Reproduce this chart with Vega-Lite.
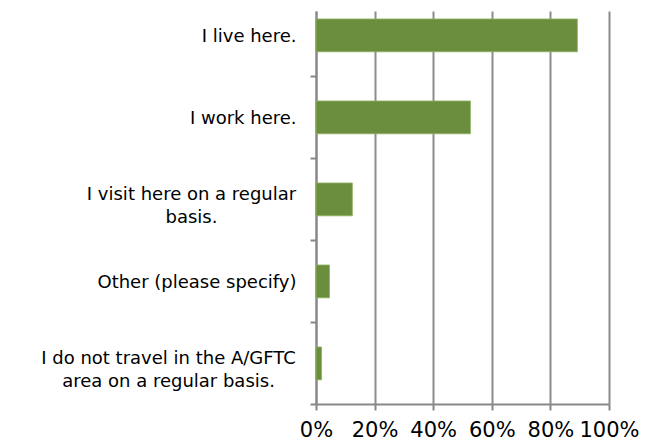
{
  "$schema": "https://vega.github.io/schema/vega-lite/v6.json",
  "autosize": "none",
  "width": 293,
  "height": 393,
  "padding": {"left": 316, "top": 11, "right": 45, "bottom": 41},
  "background": "white",
  "data": {
    "values": [
      {"answer": "I live here.", "share": 0.892},
      {"answer": "I work here.", "share": 0.527},
      {"answer": "I visit here on a regular basis.", "share": 0.124},
      {"answer": "Other (please specify)", "share": 0.046},
      {"answer": "I do not travel in the A/GFTC area on a regular basis.", "share": 0.019}
    ]
  },
  "mark": {"type": "bar", "color": "#6b8e3e", "stroke": "#8fb060", "strokeWidth": 0.8},
  "encoding": {
    "y": {
      "field": "answer",
      "type": "nominal",
      "sort": null,
      "scale": {"paddingInner": 0.6, "paddingOuter": 0.196, "align": 0.248},
      "axis": {
        "title": null,
        "domainColor": "#878787",
        "domainWidth": 2,
        "tickColor": "#878787",
        "tickWidth": 2,
        "tickSize": 6,
        "tickOffset": 41,
        "labelOffset": {
          "condition": {"test": "datum.value == 'I visit here on a regular basis.' || datum.value == 'I do not travel in the A/GFTC area on a regular basis.'", "value": -46},
          "value": -40
        },
        "labelPadding": {
          "condition": [
            {"test": "datum.value == 'I visit here on a regular basis.'", "value": 119},
            {"test": "datum.value == 'I do not travel in the A/GFTC area on a regular basis.'", "value": 142}
          ],
          "value": 14
        },
        "labelAlign": {
          "condition": {"test": "datum.value == 'I visit here on a regular basis.' || datum.value == 'I do not travel in the A/GFTC area on a regular basis.'", "value": "center"},
          "value": "right"
        },
        "labelFont": "DejaVu Sans",
        "labelFontSize": 18,
        "labelColor": "#000000",
        "labelLimit": 320,
        "labelLineHeight": 23,
        "labelExpr": "datum.label == 'I visit here on a regular basis.' ? ['I visit here on a regular', 'basis.'] : datum.label == 'I do not travel in the A/GFTC area on a regular basis.' ? ['I do not travel in the A/GFTC', 'area on a regular basis.'] : datum.label"
      }
    },
    "x": {
      "field": "share",
      "type": "quantitative",
      "scale": {"domain": [0, 1], "nice": false},
      "axis": {
        "title": null,
        "values": [0, 0.2, 0.4, 0.6, 0.8, 1],
        "format": ".0%",
        "grid": true,
        "gridColor": "#8c8c8c",
        "gridWidth": 2,
        "domainColor": "#878787",
        "domainWidth": 2,
        "tickColor": "#878787",
        "tickWidth": 2,
        "tickSize": 6,
        "labelPadding": 9,
        "labelFont": "DejaVu Sans",
        "labelFontSize": 21,
        "labelColor": "#000000",
        "labelOverlap": false,
        "labelFlush": false
      }
    }
  },
  "config": {"view": {"stroke": null}}
}
